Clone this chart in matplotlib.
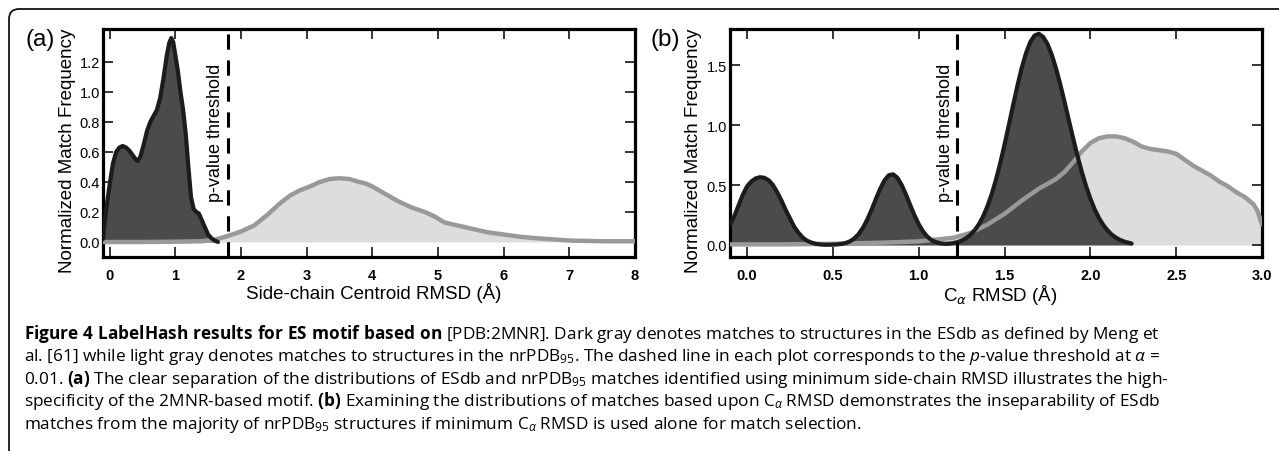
import matplotlib
matplotlib.use("Agg")
import matplotlib.pyplot as plt
from matplotlib.patches import FancyBboxPatch
from matplotlib.transforms import IdentityTransform

# ---------------- data ----------------
# Panel (a): side-chain centroid RMSD
a_dark_x = [-0.10, -0.07, -0.05, 0.00, 0.05, 0.10, 0.15, 0.20, 0.25, 0.30, 0.35, 0.40, 0.43,
            0.47, 0.52, 0.57, 0.62, 0.67, 0.72, 0.77, 0.82, 0.87, 0.91, 0.94, 0.97, 1.00,
            1.04, 1.08, 1.12, 1.16, 1.20, 1.24, 1.28, 1.32, 1.36, 1.40, 1.45, 1.50, 1.55,
            1.60, 1.65]
a_dark_y = [0.02, 0.15, 0.22, 0.38, 0.52, 0.60, 0.63, 0.64, 0.63, 0.61, 0.58, 0.55, 0.54,
            0.57, 0.65, 0.74, 0.80, 0.84, 0.88, 0.96, 1.09, 1.24, 1.33, 1.36, 1.33, 1.25,
            1.14, 1.00, 0.88, 0.72, 0.50, 0.30, 0.22, 0.20, 0.19, 0.15, 0.10, 0.05, 0.025,
            0.01, 0.0]
a_light_x = [-0.10, 0.5, 1.0, 1.4, 1.6, 1.8, 2.0, 2.2, 2.4, 2.5, 2.6, 2.75, 2.9, 3.05, 3.2,
             3.35, 3.5, 3.65, 3.8, 3.9, 4.0, 4.2, 4.4, 4.6, 4.8, 4.95, 5.1, 5.3, 5.5, 5.75,
             6.0, 6.25, 6.5, 7.0, 7.5, 8.0]
a_light_y = [0.0, 0.0, 0.002, 0.005, 0.015, 0.04, 0.07, 0.11, 0.18, 0.22, 0.26, 0.31, 0.345,
             0.37, 0.40, 0.42, 0.425, 0.42, 0.40, 0.39, 0.37, 0.32, 0.27, 0.23, 0.20, 0.17,
             0.13, 0.11, 0.09, 0.065, 0.05, 0.035, 0.025, 0.01, 0.005, 0.005]
a_threshold = 1.80
a_xticks = [0, 1, 2, 3, 4, 5, 6, 7, 8]
a_yticks = [0.0, 0.2, 0.4, 0.6, 0.8, 1.0, 1.2]

# Panel (b): C-alpha RMSD
b_dark_x = [-0.100, -0.075, -0.050, -0.025, 0.000, 0.025, 0.050, 0.075, 0.100, 0.125, 0.150,
            0.175, 0.200, 0.225, 0.250, 0.275, 0.300, 0.325, 0.350, 0.375, 0.400, 0.425,
            0.450, 0.475, 0.500, 0.525, 0.550, 0.575, 0.600, 0.625, 0.650, 0.675, 0.700,
            0.725, 0.750, 0.775, 0.800, 0.825, 0.850, 0.875, 0.900, 0.925, 0.950, 0.975,
            1.000, 1.025, 1.050, 1.075, 1.100, 1.125, 1.150, 1.175, 1.200, 1.225, 1.250,
            1.275, 1.300, 1.325, 1.350, 1.375, 1.400, 1.425, 1.450, 1.475, 1.500, 1.525,
            1.550, 1.575, 1.600, 1.625, 1.650, 1.675, 1.700, 1.725, 1.750, 1.775, 1.800,
            1.825, 1.850, 1.875, 1.900, 1.925, 1.950, 1.975, 2.000, 2.025, 2.050, 2.075,
            2.100, 2.125, 2.150, 2.175, 2.200, 2.225, 2.240]
b_dark_y = [0.17, 0.24, 0.33, 0.42, 0.49, 0.53, 0.555, 0.565, 0.56, 0.54, 0.50,
            0.44, 0.37, 0.29, 0.22, 0.15, 0.10, 0.06, 0.035, 0.02, 0.01, 0.005,
            0.002, 0.002, 0.003, 0.005, 0.009, 0.017, 0.031, 0.055, 0.092, 0.144, 0.212,
            0.294, 0.383, 0.468, 0.538, 0.581, 0.589, 0.561, 0.501, 0.422, 0.333, 0.247,
            0.172, 0.113, 0.069, 0.040, 0.024, 0.014, 0.010, 0.011, 0.016, 0.024, 0.037,
            0.056, 0.084, 0.121, 0.172, 0.238, 0.322, 0.424, 0.545, 0.684, 0.838, 1.001,
            1.167, 1.328, 1.476, 1.599, 1.692, 1.746, 1.760, 1.734, 1.675, 1.585, 1.470,
            1.336, 1.189, 1.037, 0.886, 0.742, 0.609, 0.489, 0.386, 0.297, 0.225, 0.167,
            0.121, 0.086, 0.060, 0.041, 0.027, 0.018, 0.012]
b_light_x = [-0.10, 0.2, 0.5, 0.8, 1.0, 1.1, 1.2, 1.3, 1.4, 1.5, 1.6, 1.7, 1.8, 1.85, 1.9,
             1.95, 2.0, 2.05, 2.1, 2.15, 2.2, 2.25, 2.3, 2.35, 2.4, 2.45, 2.5, 2.55, 2.6,
             2.65, 2.7, 2.75, 2.8, 2.85, 2.9, 2.95, 2.975, 3.0]
b_light_y = [0.005, 0.005, 0.01, 0.02, 0.03, 0.045, 0.06, 0.10, 0.17, 0.26, 0.37, 0.47,
             0.55, 0.61, 0.69, 0.78, 0.85, 0.89, 0.905, 0.905, 0.89, 0.86, 0.82, 0.80,
             0.79, 0.78, 0.76, 0.71, 0.66, 0.62, 0.58, 0.53, 0.49, 0.44, 0.40, 0.34, 0.28,
             0.17]
b_threshold = 1.22
b_xticks = [0.0, 0.5, 1.0, 1.5, 2.0, 2.5, 3.0]
b_yticks = [0.0, 0.5, 1.0, 1.5]

caption_lines = [
    r"$\mathbf{Figure\ 4\ LabelHash\ results\ for\ ES\ motif\ based\ on}$ [PDB:2MNR]. Dark gray denotes matches to structures in the ESdb as defined by Meng et",
    r"al. [61] while light gray denotes matches to structures in the nrPDB$_{95}$. The dashed line in each plot corresponds to the $\mathit{p}$-value threshold at $\alpha$ =",
    r"0.01. $\mathbf{(a)}$ The clear separation of the distributions of ESdb and nrPDB$_{95}$ matches identified using minimum side-chain RMSD illustrates the high-",
    r"specificity of the 2MNR-based motif. $\mathbf{(b)}$ Examining the distributions of matches based upon C$_{\alpha}$ RMSD demonstrates the inseparability of ESdb",
    r"matches from the majority of nrPDB$_{95}$ structures if minimum C$_{\alpha}$ RMSD is used alone for match selection.",
]

# ---------------- style ----------------
plt.rcParams["font.family"] = ["Liberation Sans", "DejaVu Sans"]
plt.rcParams["mathtext.fontset"] = "custom"
plt.rcParams["mathtext.rm"] = "Open Sans"
plt.rcParams["mathtext.it"] = "Open Sans:italic"
plt.rcParams["mathtext.bf"] = "Open Sans:bold"

W, H = 1279, 452
fig = plt.figure(figsize=(W / 100, H / 100), dpi=100)


def fx(px):
    return px / W


def fy(py):
    return 1 - py / H


# outer frame with rounded top-left corner
frame = FancyBboxPatch((9, -60), 3000, 442 + 60, boxstyle="round,pad=0,rounding_size=10",
                       transform=IdentityTransform(), fill=False, ec="black", lw=1.2)
fig.add_artist(frame)

DARK_FILL = "#4b4b4b"
DARK_LINE = "#1c1c1c"
LIGHT_FILL = "#dddddd"
LIGHT_LINE = "#999999"


def make_panel(left, right, xd, yd, xl, yl, thr, xlim, ylim, xticks, yticks, xfmt, yfmt):
    ax = fig.add_axes([fx(left), fy(258), fx(right) - fx(left), fy(30) - fy(258)])
    ax.fill_between(xl, yl, 0, color=LIGHT_FILL, lw=0, zorder=1)
    ax.fill_between(xd, yd, 0, color=DARK_FILL, lw=0, zorder=2)
    ax.plot(xl, yl, color=LIGHT_LINE, lw=3.2, zorder=3, solid_capstyle="round")
    ax.plot(xd, yd, color=DARK_LINE, lw=3.0, zorder=4, solid_capstyle="round")
    ax.axvline(thr, color="black", lw=2.2, dashes=(5, 3.5), zorder=5)
    ax.set_xlim(*xlim)
    ax.set_ylim(*ylim)
    ax.set_xticks(xticks)
    ax.set_xticklabels([xfmt.format(v) for v in xticks], fontweight="bold", fontsize=10.5)
    ax.set_yticks(yticks)
    ax.set_yticklabels([yfmt.format(v) for v in yticks], fontsize=10.5)
    ax.tick_params(direction="in", length=7, width=1.1, top=True, right=True)
    ax.tick_params(axis="x", pad=8)
    ax.tick_params(axis="y", pad=2)
    for s in ax.spines.values():
        s.set_linewidth(2.3)
    return ax


axa = make_panel(103, 635, a_dark_x, a_dark_y, a_light_x, a_light_y, a_threshold,
                 (-0.1, 8.0), (-0.1, 1.42), a_xticks, a_yticks, "{:d}", "{:.1f}")
axb = make_panel(730, 1262, b_dark_x, b_dark_y, b_light_x, b_light_y, b_threshold,
                 (-0.1, 3.0), (-0.1, 1.8), b_xticks, b_yticks, "{:.1f}", "{:.1f}")

# labels
for xc in (67, 693):
    fig.text(fx(xc), fy(151), "Normalized Match Frequency", rotation=90,
             ha="center", va="center", fontsize=13.5)
fig.text(fx(40), fy(40), "(a)", ha="center", va="center", fontsize=17.5)
fig.text(fx(665), fy(40), "(b)", ha="center", va="center", fontsize=17.5)
for xc in (215, 945):
    fig.text(fx(xc), fy(133), "p-value threshold", rotation=90,
             ha="center", va="center", fontsize=13)
fig.text(fx(374), fy(299), "Side-chain Centroid RMSD (Å)", ha="center", va="baseline",
         fontsize=13.5)
fig.text(fx(1000), fy(301), r"C$_{\alpha}$ RMSD (Å)", ha="center", va="baseline",
         fontsize=13.5, math_fontfamily="dejavusans")

# caption
base = 339
for i, line in enumerate(caption_lines):
    fig.text(fx(24), fy(base + i * 22.5), line, ha="left", va="baseline",
             fontsize=12.4, family="Open Sans")

fig.savefig("out.png", dpi=100)
